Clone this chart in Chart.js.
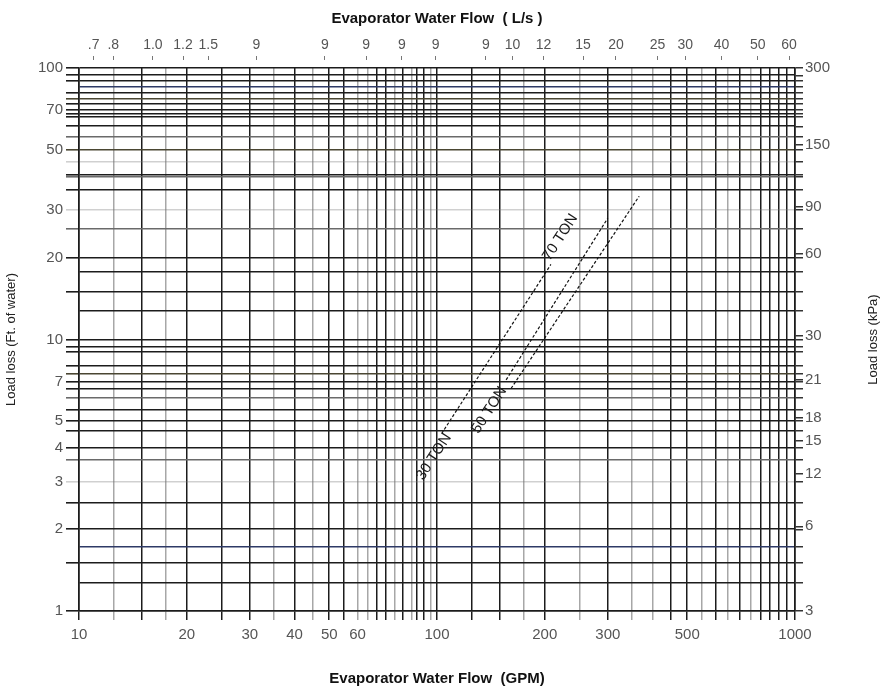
<!DOCTYPE html>
<html>
<head>
<meta charset="utf-8">
<title>Evaporator Water Flow</title>
<script src="https://cdn.jsdelivr.net/npm/chart.js@4.4.1/dist/chart.umd.min.js"></script>
<style>
  html, body { margin: 0; padding: 0; background: #fff; }
  #wrap { width: 885px; height: 693px; }
</style>
</head>
<body>
<div id="wrap"><canvas id="chart" width="885" height="693"></canvas></div>
<script>
// bottom axis, GPM
const gpmLabels = [10, 20, 30, 40, 50, 60, 100, 200, 300, 500, 1000];
const gpmGrid = [10, 12.5, 15, 17.5, 20, 25, 30, 35, 40, 45, 50, 55, 60, 64, 68, 72, 76, 80, 85, 88, 92, 96, 100,
  125, 150, 175, 200, 250, 300, 350, 400, 450, 500, 550, 600, 650, 700, 750, 800, 850, 900, 950, 1000];

// left axis, ft of water
const ftLabels = [1, 2, 3, 4, 5, 7, 10, 20, 30, 50, 70, 100];
const ftGrid = [1, 1.27, 1.5, 1.73, 2, 2.5, 3, 3.6, 4, 4.6, 5, 5.5, 6.1, 6.6, 7, 7.5, 8, 9, 9.4, 10,
  12.8, 15, 17.8, 20, 25.5, 30, 35.5, 39.7, 40.5, 45, 50, 56, 61, 66, 68, 70, 74, 77, 81, 85, 90, 94, 100];

// top axis, L/s (printed text, and where each one stands)
const lpsLabels = ['.7', '.8', '1.0', '1.2', '1.5', '9', '9', '9', '9', '9', '9', '10', '12', '15', '20', '25', '30', '40', '50', '60'];
const lpsAt = [0.66, 0.75, 0.97, 1.18, 1.39, 1.9, 2.97, 3.88, 4.9, 6.1, 8.45, 10.05, 12.3, 15.9, 19.7, 25.8, 30.9, 39.1, 49.5, 60.7];

// right axis, kPa
const kpaLabels = ['300', '150', '90', '60', '30', '21', '18', '15', '12', '6', '3'];
const kpaAt = [300, 156.6, 92.1, 62.1, 30.9, 21.3, 15.4, 12.7, 9.6, 6.15, 3];

// model lines
const tonNames = ['30 TON', '50 TON', '70 TON'];
const tonGpmA = [103, 208];
const tonFtA = [4.5, 18.9];
const tonGpmB = [156, 300];
const tonFtB = [7.1, 28];
const tonGpmC = [161, 367];
const tonFtC = [6.6, 33.7];
const tonNameGpm = [98, 140, 221];
const tonNameFt = [3.7, 5.5, 23.8];

const FONT = "'Liberation Sans', Arial, sans-serif";
const LPS_PER = 15.85;

const lightX = [12.5, 17.5, 35, 45, 60, 64, 76, 85, 96, 175, 250, 350, 400, 550, 650, 750];
const lightY = [3, 30, 45];
const grayY = [56, 39.7, 3.6, 6.1, 25.5];
const blueY = [85, 1.73];
const oliveY = [77, 50, 18, 7.5];
const noTickY = [85, 17.8, 12.8, 1.73, 1.27];
const has = (list, v) => list.some(a => Math.abs(a - v) < 1e-9);

function xColor(c) {
  const v = c.tick && c.tick.value;
  return has(lightX, v) ? 'rgba(60,60,60,0.45)' : '#1c1c1c';
}
function yColor(c) {
  const v = c.tick && c.tick.value;
  if (has(lightY, v)) return 'rgba(120,120,120,0.35)';
  if (has(grayY, v)) return '#6a6a6a';
  if (has(blueY, v)) return '#2e3a66';
  if (has(oliveY, v)) return '#4a4632';
  return '#1c1c1c';
}

function line(gpm, ft) {
  return {
    data: gpm.map((g, i) => ({ x: g, y: ft[i] })),
    showLine: true,
    borderColor: '#111',
    borderWidth: 1.2,
    borderDash: [3, 2],
    pointRadius: 0,
    xAxisID: 'x',
    yAxisID: 'y'
  };
}

const tonText = {
  id: 'tonText',
  afterDatasetsDraw(chart) {
    const { ctx, chartArea } = chart;
    const x = chart.scales.x, y = chart.scales.y;
    const dx = x.getPixelForValue(tonGpmA[1]) - x.getPixelForValue(tonGpmA[0]);
    const dy = y.getPixelForValue(tonFtA[1]) - y.getPixelForValue(tonFtA[0]);
    const ang = Math.atan2(dy, dx);
    ctx.save();
    ctx.font = '15px ' + FONT;
    ctx.fillStyle = '#1a1a1a';
    ctx.textAlign = 'center';
    ctx.textBaseline = 'middle';
    tonNames.forEach((name, i) => {
      ctx.save();
      ctx.translate(x.getPixelForValue(tonNameGpm[i]), y.getPixelForValue(tonNameFt[i]));
      ctx.rotate(ang);
      ctx.fillText(name, 0, 0);
      ctx.restore();
    });
    // right axis title, reading upwards like the left one
    ctx.font = '13px ' + FONT;
    ctx.fillStyle = '#222';
    ctx.translate(chart.width - 12, (chartArea.top + chartArea.bottom) / 2);
    ctx.rotate(-Math.PI / 2);
    ctx.fillText('Load loss (kPa)', 0, 0);
    ctx.restore();
  }
};

const rightTicks = kpaAt.concat(ftGrid.map(v => v * 3).filter(v => !kpaAt.some(k => Math.abs(k - v) < 1e-9)));

new Chart(document.getElementById('chart'), {
  type: 'scatter',
  data: {
    datasets: [line(tonGpmA, tonFtA), line(tonGpmB, tonFtB), line(tonGpmC, tonFtC)]
  },
  options: {
    responsive: false,
    animation: false,
    devicePixelRatio: 1,
    layout: { padding: 0 },
    plugins: { legend: { display: false }, tooltip: { enabled: false } },
    scales: {
      x: {
        type: 'logarithmic',
        position: 'bottom',
        min: 10,
        max: 1000,
        afterBuildTicks: s => { s.ticks = gpmGrid.map(v => ({ value: v })); },
        afterFit: s => { s.height = 82; },
        ticks: {
          autoSkip: false,
          maxRotation: 0,
          padding: 6,
          color: '#555',
          font: { family: FONT, size: 15 },
          callback: v => gpmLabels.includes(v) ? String(v) : ''
        },
        grid: { color: xColor, tickColor: xColor, lineWidth: 1.5, tickLength: 9 },
        border: { color: '#1c1c1c', width: 1.6 },
        title: {
          display: true,
          text: 'Evaporator Water Flow  (GPM)',
          color: '#111',
          font: { family: FONT, size: 15, weight: 'bold' },
          padding: { top: 0, bottom: 5 }
        }
      },
      x2: {
        type: 'logarithmic',
        position: 'top',
        min: 10 / LPS_PER,
        max: 1000 / LPS_PER,
        afterBuildTicks: s => { s.ticks = lpsAt.map(v => ({ value: v })); },
        afterFit: s => { s.height = 68; },
        ticks: {
          autoSkip: false,
          maxRotation: 0,
          padding: 2,
          color: '#555',
          font: { family: FONT, size: 14 },
          callback: (v, i) => lpsLabels[i]
        },
        grid: { drawOnChartArea: false, tickLength: 12, tickColor: '#777', tickBorderDash: [4, 20] },
        border: { display: false },
        title: {
          display: true,
          text: 'Evaporator Water Flow  ( L/s )',
          color: '#111',
          font: { family: FONT, size: 15, weight: 'bold' },
          padding: { top: 10, bottom: 0 }
        }
      },
      y: {
        type: 'logarithmic',
        position: 'left',
        min: 1,
        max: 100,
        afterBuildTicks: s => { s.ticks = ftGrid.map(v => ({ value: v })); },
        afterFit: s => { s.width = 79; },
        ticks: {
          autoSkip: false,
          padding: 3,
          color: '#555',
          font: { family: FONT, size: 15 },
          callback: v => ftLabels.includes(v) ? String(v) : ''
        },
        grid: {
          color: yColor,
          lineWidth: 1.6,
          tickLength: 13,
          tickColor: c => has(noTickY, c.tick.value) ? 'rgba(0,0,0,0)' : yColor(c)
        },
        border: { color: '#1c1c1c', width: 1.6 },
        title: {
          display: true,
          text: 'Load loss (Ft. of water)',
          color: '#222',
          font: { family: FONT, size: 13 },
          padding: { top: 4, bottom: 0 }
        }
      },
      y2: {
        type: 'logarithmic',
        position: 'right',
        min: 3,
        max: 300,
        afterBuildTicks: s => { s.ticks = rightTicks.map(v => ({ value: v })); },
        afterFit: s => { s.width = 90; },
        ticks: {
          autoSkip: false,
          padding: 2,
          color: '#555',
          font: { family: FONT, size: 15 },
          callback: v => { const i = kpaAt.indexOf(v); return i >= 0 ? kpaLabels[i] : ''; }
        },
        grid: { drawOnChartArea: false, tickLength: 8, tickColor: '#333', lineWidth: 1.5 },
        border: { color: '#1c1c1c', width: 1.6 },
        title: { display: false }
      }
    }
  },
  plugins: [tonText]
});
</script>
</body>
</html>
